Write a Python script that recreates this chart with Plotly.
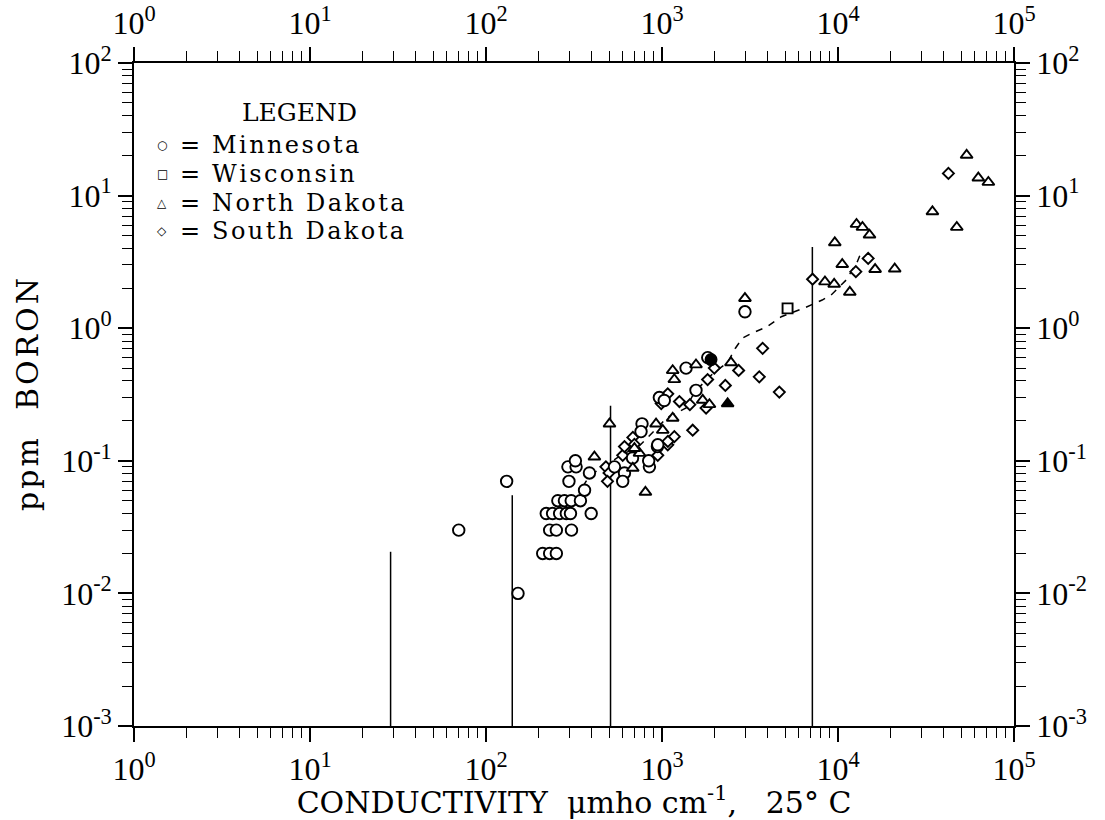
import plotly.graph_objects as go

SERIF = "Liberation Serif"
WIDE_SERIF = "DejaVu Serif"

# ---- Minnesota (open circles) ----
mn_x = [70, 131, 152,
        210, 230, 251,
        230, 251, 306,
        220, 239, 262, 286, 302, 396,
        256, 279, 305, 344,
        296, 363, 387,
        292, 325, 322,
        537, 612, 598, 680, 848, 840, 942, 946, 770, 760,
        966, 1030, 1370, 1560, 1820, 2960]
mn_y = [0.030, 0.070, 0.010,
        0.020, 0.020, 0.020,
        0.030, 0.030, 0.030,
        0.040, 0.040, 0.040, 0.040, 0.040, 0.040,
        0.050, 0.050, 0.050, 0.050,
        0.070, 0.060, 0.081,
        0.090, 0.090, 0.100,
        0.090, 0.081, 0.070, 0.105, 0.090, 0.100, 0.128, 0.132, 0.190, 0.166,
        0.300, 0.285, 0.500, 0.340, 0.600, 1.33]
mn_fill_x = [1900]
mn_fill_y = [0.58]

# ---- Wisconsin (open squares) ----
wi_x = [5170]
wi_y = [1.41]

# ---- North Dakota (open triangles) ----
nd_x = [413, 503, 682, 805, 745, 697, 925, 1010, 1150, 1150, 1175, 1560,
        1703, 1860, 2465, 2960,
        8430, 9510, 9590, 10570, 11670, 12740, 13770, 15100, 16250, 21000,
        34400, 47300, 53800, 62700, 71500]
nd_y = [0.107, 0.190, 0.088, 0.058, 0.114, 0.124, 0.190, 0.170, 0.210, 0.480, 0.410, 0.530,
        0.287, 0.266, 0.550, 1.68,
        2.24, 2.15, 4.42, 3.03, 1.87, 6.08, 5.77, 5.05, 2.78, 2.80,
        7.57, 5.77, 20.2, 13.6, 12.6]
nd_fill_x = [2360]
nd_fill_y = [0.27]

# ---- South Dakota (open diamonds) ----
sd_x = [480, 500, 490, 598, 612, 683, 697, 946, 1078, 1175, 1494, 1080,
        990, 1078, 1256, 1440, 1780, 1816, 1983, 2290, 2725, 3570, 3730, 4640,
        7170, 12630, 14840, 42400]
sd_y = [0.090, 0.081, 0.070, 0.110, 0.128, 0.150, 0.133, 0.110, 0.132, 0.152, 0.170, 0.140,
        0.270, 0.320, 0.280, 0.265, 0.250, 0.410, 0.500, 0.370, 0.480, 0.430, 0.705, 0.330,
        2.34, 2.67, 3.36, 14.7]

# ---- dashed trend curve ----
trend_x = [355, 387, 585, 745, 990, 1054, 1370, 1530, 1960, 2360, 2600, 2860,
           3260, 3920, 4760, 6430, 8130, 9270, 11130, 12860, 13710]
trend_y = [0.064, 0.077, 0.110, 0.130, 0.190, 0.210, 0.250, 0.330, 0.460, 0.550, 0.700, 0.840,
           0.920, 1.02, 1.22, 1.42, 1.63, 1.81, 2.31, 3.16, 3.89]

# ---- vertical drop lines (from the axis floor up to a level) ----
drop_x = [28.7, 141, 510, 7150]
drop_top = [0.0206, 0.055, 0.26, 4.1]
Y_FLOOR = 1e-3

# ---- axes ----
decades_x = [1, 10, 100, 1000, 10000, 100000]
decades_x_text = ["10<sup>0</sup>", "10<sup>1</sup>", "10<sup>2</sup>",
                  "10<sup>3</sup>", "10<sup>4</sup>", "10<sup>5</sup>"]
decades_y = [0.001, 0.01, 0.1, 1, 10, 100]
decades_y_text = ["10<sup>-3</sup>", "10<sup>-2</sup>", "10<sup>-1</sup>",
                  "10<sup>0</sup>", "10<sup>1</sup>", "10<sup>2</sup>"]
minor_x = [m * d for d in decades_x[:-1] for m in range(2, 10)]
minor_y = [m * d for d in decades_y[:-1] for m in range(2, 10)]

legend_title = "LEGEND"
legend_names = ["Minnesota", "Wisconsin", "North Dakota", "South Dakota"]
legend_glyphs = ["○", "□", "△", "◇"]

x_title = "CONDUCTIVITY  μmho cm<sup>-1</sup>,   25° C"
y_title = "ppm  BORON"


def letterspace(s, gap="\u2009"):
    return gap.join(s)


fig = go.Figure()

# drop lines and trend curve live on the primary axes (drawn underneath)
vx, vy = [], []
for x, top in zip(drop_x, drop_top):
    vx += [x, x, None]
    vy += [Y_FLOOR, top, None]
fig.add_trace(go.Scatter(x=vx, y=vy, mode="lines",
                         line=dict(color="black", width=1.5),
                         hoverinfo="skip", showlegend=False))
fig.add_trace(go.Scatter(x=trend_x, y=trend_y, mode="lines",
                         line=dict(color="black", width=1.5, dash="7px,7px"),
                         hoverinfo="skip", showlegend=False))


def open_marker(symbol, size):
    return dict(symbol=symbol, size=size, color="white",
                line=dict(color="black", width=1.9))


def solid_marker(symbol, size):
    return dict(symbol=symbol, size=size, color="black",
                line=dict(color="black", width=1.9))


# point symbols live on the mirrored top/right axes (drawn on top of the lines)
marker_axes = dict(xaxis="x2", yaxis="y2", showlegend=False)
fig.add_trace(go.Scatter(x=sd_x, y=sd_y, mode="markers", name="South Dakota",
                         marker=open_marker("diamond", 8.5), **marker_axes))
fig.add_trace(go.Scatter(x=mn_x, y=mn_y, mode="markers", name="Minnesota",
                         marker=open_marker("circle", 11.5), **marker_axes))
fig.add_trace(go.Scatter(x=nd_x, y=nd_y, mode="markers", name="North Dakota",
                         marker=open_marker("triangle-up", 10.5), **marker_axes))
fig.add_trace(go.Scatter(x=wi_x, y=wi_y, mode="markers", name="Wisconsin",
                         marker=open_marker("square", 10), **marker_axes))
fig.add_trace(go.Scatter(x=mn_fill_x, y=mn_fill_y, mode="markers", name="Minnesota",
                         marker=solid_marker("circle", 11), **marker_axes))
fig.add_trace(go.Scatter(x=nd_fill_x, y=nd_fill_y, mode="markers", name="North Dakota",
                         marker=solid_marker("triangle-up", 10.5), **marker_axes))

tick_font = dict(family=SERIF, size=32, color="black")
common = dict(type="log", showgrid=False, zeroline=False, automargin=False,
              showline=True, linecolor="black", linewidth=1.6,
              ticks="outside", ticklen=14, tickwidth=1.5, tickcolor="black",
              tickfont=tick_font, tickmode="array")
minor_x_cfg = dict(tickmode="array", tickvals=minor_x, ticks="outside",
                   ticklen=10, tickwidth=1.3, tickcolor="black")
minor_y_cfg = dict(tickmode="array", tickvals=minor_y, ticks="outside",
                   ticklen=10, tickwidth=1.3, tickcolor="black")

fig.update_layout(
    width=1105, height=820,
    margin=dict(l=134, r=91, t=63, b=94, autoexpand=False),
    paper_bgcolor="white", plot_bgcolor="white",
    xaxis=dict(**common, range=[0, 5], tickvals=decades_x, ticktext=decades_x_text,
               minor=minor_x_cfg,
               title=dict(text=x_title,
                          font=dict(family=WIDE_SERIF, size=30, color="black"),
                          standoff=7)),
    xaxis2=dict(**common, range=[0, 5], tickvals=decades_x, ticktext=decades_x_text,
                overlaying="x", side="top", anchor="y2", minor=minor_x_cfg),
    yaxis=dict(**common, range=[-3, 2], tickvals=decades_y, ticktext=decades_y_text,
               minor=minor_y_cfg,
               title=dict(text=letterspace(y_title, "\u200a"),
                          font=dict(family=WIDE_SERIF, size=30, color="black"),
                          standoff=14)),
    yaxis2=dict(**common, range=[-3, 2], tickvals=decades_y, ticktext=decades_y_text,
                overlaying="y", side="right", anchor="x2", minor=minor_y_cfg),
)

# legend block drawn as text in the upper-left corner of the plot area
annotations = [dict(text=legend_title, xref="paper", yref="paper",
                    x=0.1875, y=0.925, xanchor="center", yanchor="middle",
                    showarrow=False, font=dict(family=WIDE_SERIF, size=25, color="black"))]
row_y = [0.876, 0.833, 0.789, 0.747]
for glyph, name, ry in zip(legend_glyphs, legend_names, row_y):
    annotations.append(dict(text=glyph, xref="paper", yref="paper",
                            x=0.032, y=ry, xanchor="center", yanchor="middle",
                            showarrow=False,
                            font=dict(family="DejaVu Sans", size=12, color="black")))
    annotations.append(dict(text="=\u2002" + letterspace(name, "\u200a"),
                            xref="paper", yref="paper",
                            x=0.05, y=ry, xanchor="left", yanchor="middle",
                            showarrow=False,
                            font=dict(family=WIDE_SERIF, size=24, color="black")))
fig.update_layout(annotations=annotations)

fig.write_html("out.html")
